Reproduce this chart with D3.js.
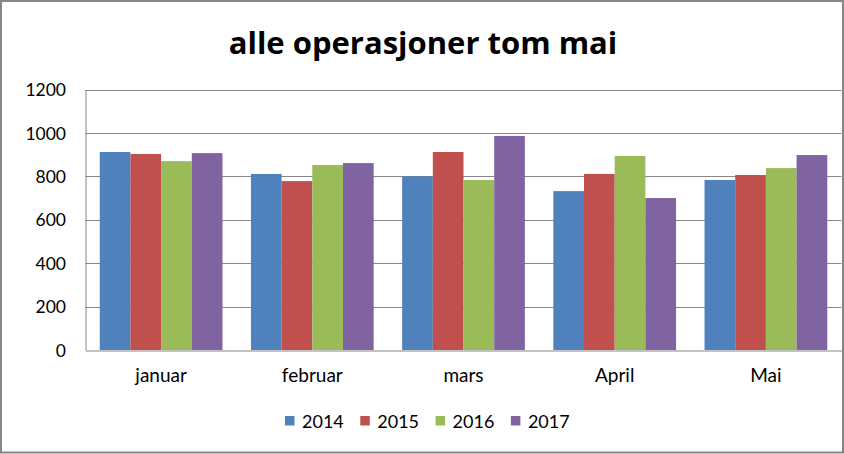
<!DOCTYPE html>
<html><head><meta charset="utf-8">
<script src="https://cdn.jsdelivr.net/npm/d3@7"></script>
<style>body{margin:0;background:#fff}svg{display:block}text{font-family:Lato,"Open Sans",sans-serif}</style>
</head><body>
<script>
const categories = ["januar","februar","mars","April","Mai"];
const seriesNames = ["2014","2015","2016","2017"];
const v2014 = [912, 811, 800, 732, 783];
const v2015 = [903, 778, 912, 811, 806];
const v2016 = [870, 852, 783, 894, 838];
const v2017 = [907, 861, 986, 700, 898];
const yTicks = [0,200,400,600,800,1000,1200];
const colors = ["#4F81BD","#C0504D","#9BBB59","#8064A2"];
const series = [v2014,v2015,v2016,v2017];

const W=844,H=454;
const svg=d3.select("body").append("svg").attr("width",W).attr("height",H);
svg.append("rect").attr("x",1).attr("y",1).attr("width",W-2).attr("height",H-2.5).attr("fill","#fff").attr("stroke","#868686").attr("stroke-width",2);

const pL=85.5,pR=841.5,pT=89.5,pB=350;
const x=d3.scaleBand().domain(categories).range([pL,pR]).paddingInner(0).paddingOuter(0);
const x1=d3.scaleBand().domain(seriesNames).range([0,x.bandwidth()]).paddingOuter(0.464).paddingInner(0);
const y=d3.scaleLinear().domain([0,1200]).range([pB,pT]);

// gridlines
svg.append("g").selectAll("line").data(yTicks.filter(d=>d>0)).join("line")
 .attr("x1",pL).attr("x2",pR).attr("y1",d=>Math.round(y(d))+0.5).attr("y2",d=>Math.round(y(d))+0.5)
 .attr("stroke","#868686").attr("stroke-width",1);

// bars
categories.forEach((c,i)=>{
  series.forEach((s,j)=>{
    svg.append("rect").attr("x",x(c)+x1(seriesNames[j])).attr("width",x1.bandwidth())
     .attr("y",y(s[i])).attr("height",pB-y(s[i])).attr("fill",colors[j]);
  });
});

// axes
const ya=d3.axisLeft(y).tickValues(yTicks).tickFormat(d3.format("d")).tickSize(0).tickPadding(19.5);
const gy=svg.append("g").attr("transform",`translate(${pL},0)`).call(ya);
gy.select(".domain").attr("stroke","#868686");
gy.selectAll("text").attr("font-size",17.5).attr("fill","#000").attr("dy","0.35em");
const xa=d3.axisBottom(x).tickSize(0).tickPadding(18);
const gx=svg.append("g").attr("transform",`translate(0,${pB+0.5})`).call(xa);
gx.select(".domain").attr("stroke","#868686");
gx.selectAll("text").attr("font-size",19).attr("fill","#000");

// title
svg.append("text").attr("x",423).attr("y",54).attr("text-anchor","middle")
 .style("font-family","'Open Sans',sans-serif")
 .attr("font-size",31).attr("font-weight","bold").attr("fill","#000").text("alle operasjoner tom mai");

// legend
const lg=svg.append("g");
seriesNames.forEach((n,j)=>{
  const lx=285+j*75.3;
  lg.append("rect").attr("x",lx).attr("y",416).attr("width",9.5).attr("height",9.5).attr("fill",colors[j]);
  lg.append("text").attr("x",lx+17).attr("y",427.5).attr("font-size",18).attr("fill","#000").text(n);
});
</script>
</body></html>
